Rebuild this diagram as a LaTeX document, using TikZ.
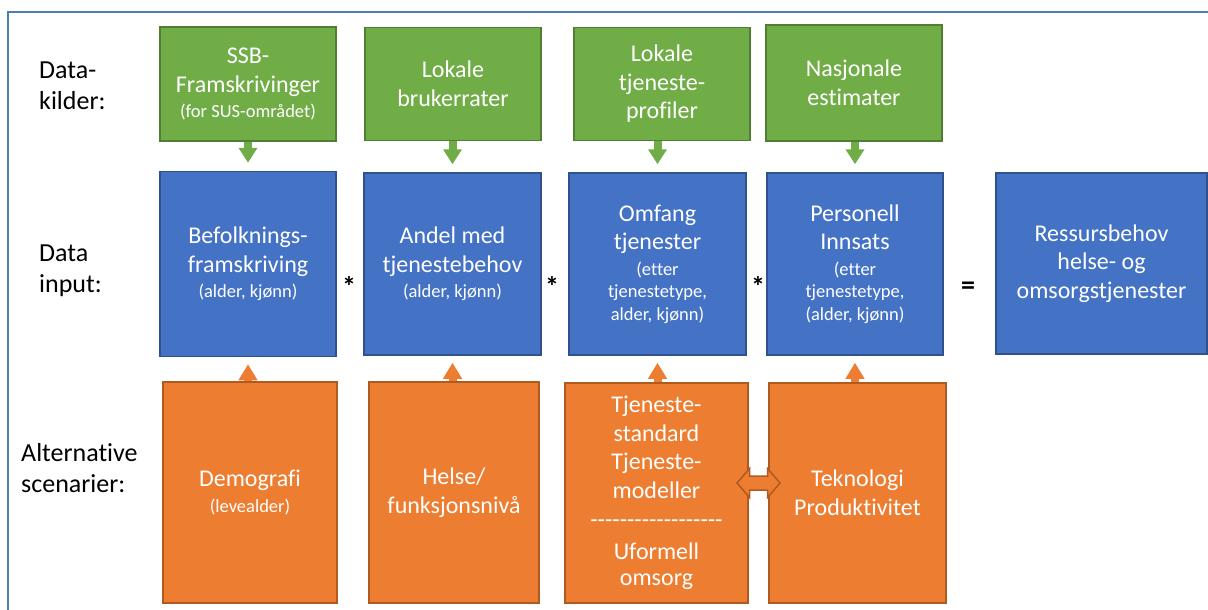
\documentclass[tikz,border=0pt]{standalone}
\usepackage{fontspec}
\setmainfont{Carlito}[RawFeature={-liga;-clig;-calt;-dlig;-hlig}]
\usetikzlibrary{arrows.meta,calc}
\definecolor{gfill}{HTML}{70AD47}
\definecolor{gline}{HTML}{507E32}
\definecolor{bfill}{HTML}{4472C4}
\definecolor{bline}{HTML}{2F528F}
\definecolor{ofill}{HTML}{ED7D31}
\definecolor{oline}{HTML}{AE5A21}
\definecolor{framecol}{HTML}{4A7EBB}
\newcommand\subtxt{\fontsize{18.5}{22}\selectfont}
\newcommand\hy{\mbox{-}}
\begin{document}
\begin{tikzpicture}[x=1pt,y=-1pt,
  box/.style={draw, line width=1.5pt, text=white, align=center, inner sep=0pt,
    font=\fontsize{24}{28.5}\selectfont},
  src/.style={box, fill=gfill, draw=gline},
  inp/.style={box, fill=bfill, draw=bline},
  alt/.style={box, fill=ofill, draw=oline},
  rowlabel/.style={anchor=west, align=left, inner sep=0pt, text=black,
    font=\fontsize{26}{31.5}\selectfont},
  opsym/.style={anchor=base, inner sep=0pt, text=black, font=\bfseries\fontsize{28}{30}\selectfont},
  feedG/.style={draw=gfill, line width=8pt, shorten >=8pt,
    -{Triangle[width=18pt,length=15pt]}},
  feedO/.style={draw=ofill, line width=8pt, shorten >=7pt,
    -{Triangle[width=18pt,length=16pt]}}
]
\useasboundingbox (0,0) rectangle (1208,610);

% frame
\draw[framecol, line width=2pt] (8,612) -- (8,12) -- (1210,12);

% row labels
\node[rowlabel] (lk) at (39,86) {Data-\\kilder:};
\node[rowlabel] (li) at (39,271) {Data\\input:};
\node[rowlabel] (la) at (21,468) {Alternative\\scenarier:};

% data sources
\node[src, minimum width=176pt, minimum height=114pt] (g1) at (248,84)
  {SSB-\\Framskrivinger\\[-3pt]{\subtxt (for SUS-området)}};
\node[src, minimum width=176pt, minimum height=113pt] (g2) at (453,84)
  {Lokale\\brukerrater};
\node[src, minimum width=176pt, minimum height=113pt] (g3) at (662,84)
  {Lokale\\tjeneste-\\profiler};
\node[src, minimum width=176pt, minimum height=116pt] (g4) at (854,83)
  {Nasjonale\\estimater};

% data input
\node[inp, minimum width=176pt, minimum height=185pt] (b1) at (248,264)
  {Befolknings-\\framskriving\\[-3pt]{\subtxt (alder, kjønn)}};
\node[inp, minimum width=177pt, minimum height=182pt] (b2) at (452.5,264)
  {Andel med\\tjenestebehov\\[-3pt]{\subtxt (alder, kjønn)}};
\node[inp, minimum width=177pt, minimum height=182pt] (b3) at (657.5,264)
  {Omfang\\tjenester\\[-3pt]{\subtxt (etter}\\[-6pt]{\subtxt tjenestetype,}\\[-6pt]{\subtxt alder, kjønn)}};
\node[inp, minimum width=176pt, minimum height=182pt] (b4) at (855,264)
  {Personell\\Innsats\\[-3pt]{\subtxt (etter}\\[-6pt]{\subtxt tjenestetype,}\\[-6pt]{\subtxt (alder, kjønn)}};
\node[inp, minimum width=211pt, minimum height=181pt] (b5) at (1101.5,263.5)
  {Ressursbehov\\helse- og\\omsorgstjenester};

% operators
\node[opsym] (m1) at (349,296) {*};
\node[opsym] (m2) at (552,296) {*};
\node[opsym] (m3) at (758,296) {*};
\node[opsym] (eq) at (968,294) {=};

% scenarios
\node[alt, minimum width=174pt, minimum height=221pt] (o1) at (250,492.5)
  {Demografi\\[-3pt]{\subtxt (levealder)}};
\node[alt, minimum width=170pt, minimum height=221pt] (o2) at (454,492.5)
  {Helse/\\funksjonsnivå};
\node[alt, minimum width=183pt, minimum height=220pt] (o3) at (656.5,493)
  {Tjeneste-\\standard\\Tjeneste-\\modeller\\[1pt]\hy\hy\hy\hy\hy\hy\hy\hy\hy\hy\hy\hy\hy\hy\hy\hy\hy\hy\\[3pt]Uformell\\[-2pt]omsorg};
\node[alt, minimum width=177pt, minimum height=220pt] (o4) at (857.5,493)
  {Teknologi\\Produktivitet};

% feeds from sources into inputs
\foreach \g/\b in {g1/b1, g2/b2, g3/b3, g4/b4}
  \draw[feedG] (\b.north |- \g.south) -- (\b.north);

% feeds from scenarios into inputs
\foreach \o/\b in {o1/b1, o2/b2, o3/b3, o4/b4}
  \draw[feedO] (\b.south |- \o.north) -- (\b.south);

% two-way block arrow between the two scenario boxes
\coordinate (dac) at ($(o3.east)!0.5!(o4.west)+(0,-10)$);
\draw[fill=ofill, draw=oline, line width=1.5pt, line join=miter]
  (dac) ++(-21.5,0) -- ++(12.5,-14.5) -- ++(0,7.5) -- ++(18,0) -- ++(0,-7.5)
  -- ++(12.5,14.5) -- ++(-12.5,14.5) -- ++(0,-7.5) -- ++(-18,0) -- ++(0,7.5) -- cycle;
\end{tikzpicture}
\end{document}
